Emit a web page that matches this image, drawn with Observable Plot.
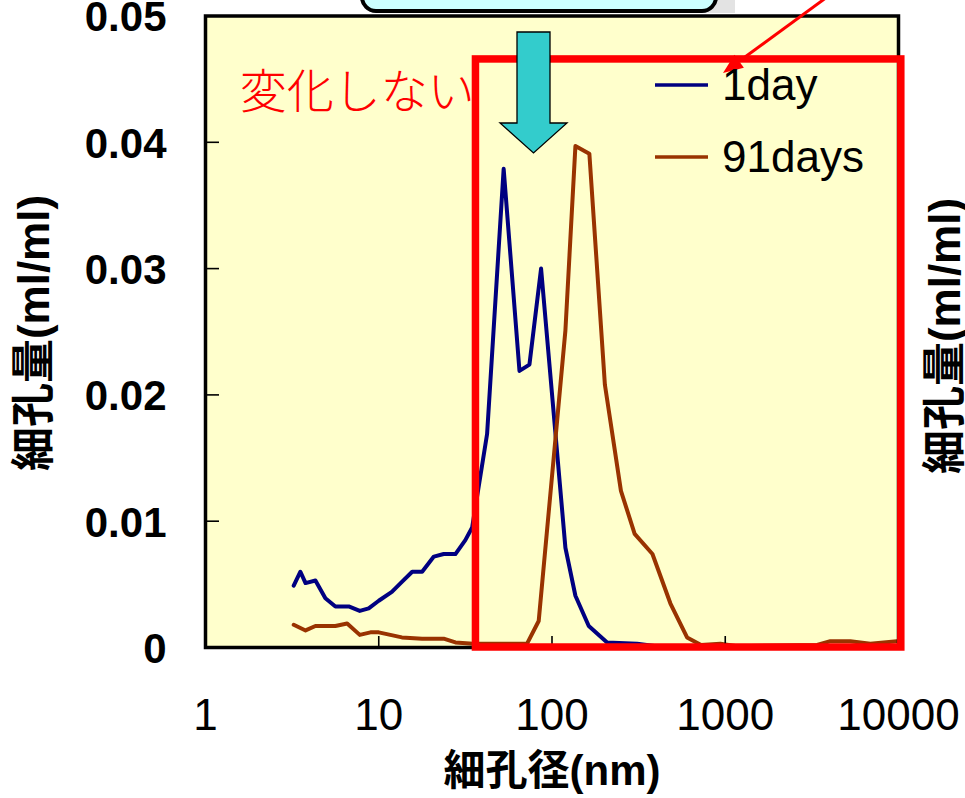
<!DOCTYPE html>
<html>
<head>
<meta charset="utf-8">
<script src="https://cdn.jsdelivr.net/npm/d3@7"></script>
<script src="https://cdn.jsdelivr.net/npm/@observablehq/plot@0.6"></script>
<style>
  html, body { margin: 0; padding: 0; background: white; }
</style>
</head>
<body>
<div id="chart"></div>
<script>
// ---- data ----
const seriesNames = ["1day", "91days"];
const day1X = [3.23, 3.53, 3.78, 4.31, 4.92, 5.62, 6.71, 7.77, 8.75, 10.0, 11.9, 13.6, 15.6, 17.8, 20.8, 23.7, 27.7, 31.6, 34.6, 42.2, 52.6, 64.9, 74.1, 86.5, 119.5, 136.5, 163, 208, 310, 400, 600, 1000, 2000, 5000, 10000];
const day1Y = [0.0049, 0.0060, 0.0051, 0.0053, 0.0039, 0.00325, 0.00325, 0.0029, 0.0031, 0.0037, 0.0044, 0.0052, 0.0060, 0.0060, 0.0072, 0.0074, 0.0074, 0.0085, 0.0095, 0.0169, 0.0379, 0.0219, 0.0224, 0.0300, 0.0079, 0.0041, 0.0017, 0.0004, 0.0003, 0.0001, 0.0001, 0, 0, 0, 0];
const day91X = [3.23, 3.78, 4.31, 5.62, 6.57, 7.77, 8.96, 10, 13.6, 17.8, 23.7, 27.7, 35, 50, 71.8, 83.8, 119.5, 136.5, 164.3, 202, 250, 300, 380, 482, 602, 725, 937, 1170, 3390, 4040, 5270, 6880, 9800];
const day91Y = [0.0018, 0.00135, 0.0017, 0.0017, 0.0019, 0.0010, 0.0012, 0.0012, 0.0008, 0.0007, 0.0007, 0.0004, 0.0003, 0.0003, 0.0003, 0.0021, 0.0251, 0.0397, 0.0391, 0.0208, 0.0124, 0.0090, 0.0074, 0.0035, 0.0008, 0.0002, 0.0003, 0.0001, 0.0002, 0.0005, 0.0005, 0.0003, 0.0005];
const xTicks = [1, 10, 100, 1000, 10000];
const xTickLabels = ["1", "10", "100", "1000", "10000"];
const yTicks = [0, 0.01, 0.02, 0.03, 0.04, 0.05];
const yTickLabels = ["0", "0.01", "0.02", "0.03", "0.04", "0.05"];
const xTitle = "細孔径(nm)";
const yTitle = "細孔量(ml/ml)";
const noteText = "変化しない";

// ---- build ----
const colors = {"1day": "#000080", "91days": "#993300"};
const d1 = day1X.map((x, i) => ({x, y: day1Y[i]}));
const d91 = day91X.map((x, i) => ({x, y: day91Y[i]}));
const latin = "'Liberation Sans', Arial, 'Noto Sans CJK JP', sans-serif";

const plot = Plot.plot({
  width: 965,
  height: 798,
  marginLeft: 205,
  marginRight: 67,
  marginTop: 15.5,
  marginBottom: 151,
  style: {background: "white", fontFamily: latin, color: "black", overflow: "visible"},
  x: {type: "log", domain: [1, 10000], label: null},
  y: {domain: [0, 0.05], label: null},
  marks: [
    Plot.frame({fill: "#FFFFCC", stroke: null}),
    Plot.line(d1, {x: "x", y: "y", stroke: colors["1day"], strokeWidth: 4}),
    Plot.line(d91, {x: "x", y: "y", stroke: colors["91days"], strokeWidth: 4}),
    // inward tick marks
    Plot.ruleY(yTicks.slice(1, -1), {y: d => d, x1: () => 1, x2: () => Math.pow(10, 14 / 173.3), stroke: "black", strokeWidth: 1.6}),
    Plot.ruleX(xTicks.slice(1, -1), {x: d => d, y1: () => 0, y2: () => 11 / 12630, stroke: "black", strokeWidth: 1.6}),
    Plot.frame({stroke: "black", strokeWidth: 3.5}),
    Plot.axisY({ticks: yTicks, tickSize: 0, tickPadding: 39, fontSize: 42, fontWeight: "bold", dy: 2,
      tickFormat: d => yTickLabels[yTicks.indexOf(d)], label: null}),
    Plot.axisX({ticks: xTicks, tickSize: 0, tickPadding: 51, fontSize: 44,
      tickFormat: d => xTickLabels[xTicks.indexOf(d)], label: null}),
    // x axis title
    Plot.text([xTitle], {frameAnchor: "bottom", dy: 137, fontSize: 42, fontWeight: "bold", fill: "black"}),
    // red highlight box
    Plot.rect([0], {x1: () => 36.4, x2: () => 10380, y1: () => 0, y2: () => 0.04656,
      fill: "none", stroke: "#FF0000", strokeWidth: 7.5, clip: false}),
    // annotation
    Plot.text([noteText], {x: () => 1.575, y: () => 0.0439, textAnchor: "start", fill: "#FF0000",
      fontSize: 47, fontFamily: "'Noto Sans CJK JP', sans-serif", fontWeight: 300})
  ]
});

const svg = d3.select(plot);

// rotated y titles (left and right)
[[33, 333], [944, 336]].forEach(([tx, ty]) => {
  svg.append("text").attr("transform", `translate(${tx},${ty}) rotate(-90)`)
    .attr("text-anchor", "middle").attr("dominant-baseline", "central")
    .attr("font-family", latin).attr("font-size", 44).attr("font-weight", "bold")
    .attr("fill", "black").text(yTitle);
});

// top callout box (mostly cut off at top)
svg.append("rect").attr("x", 380).attr("y", -50).attr("width", 355).attr("height", 63).attr("fill", "#E3E3E3");
svg.append("rect").attr("x", 362).attr("y", -50).attr("width", 354).attr("height", 61).attr("rx", 14)
  .attr("fill", "#CCFFFF").attr("stroke", "black").attr("stroke-width", 4);

// cyan down arrow
const arrowPts = [[517, 32], [550, 32], [550, 123], [567, 123], [533.5, 153], [500, 123], [517, 123]];
svg.append("polygon").attr("points", arrowPts.map(p => p.join(",")).join(" "))
  .attr("fill", "#33CCCC").attr("stroke", "black").attr("stroke-width", 1.3);

// red pointer arrow
const tip = [723, 73];
const ux = 0.808, uy = -0.59, px = 0.59, py = 0.808;
const headLen = 20, headHalf = 8;
const base = [tip[0] + ux * headLen, tip[1] + uy * headLen];
svg.append("line").attr("x1", tip[0] + ux * 160).attr("y1", tip[1] + uy * 160)
  .attr("x2", base[0]).attr("y2", base[1]).attr("stroke", "#FF0000").attr("stroke-width", 3);
svg.append("polygon").attr("points", [
  tip, [base[0] + px * headHalf, base[1] + py * headHalf], [base[0] - px * headHalf, base[1] - py * headHalf]
].map(p => p.join(",")).join(" ")).attr("fill", "#FF0000");

// legend
const legendRows = [{name: seriesNames[0], y: 85}, {name: seriesNames[1], y: 157}];
legendRows.forEach(r => {
  svg.append("line").attr("x1", 655).attr("x2", 708).attr("y1", r.y).attr("y2", r.y)
    .attr("stroke", colors[r.name]).attr("stroke-width", 3.3);
  svg.append("text").attr("x", 722).attr("y", r.y + 15).text(r.name)
    .attr("text-anchor", "start")
    .attr("font-family", latin).attr("font-size", 44).attr("fill", "black");
});

document.getElementById("chart").appendChild(plot);
</script>
</body>
</html>
